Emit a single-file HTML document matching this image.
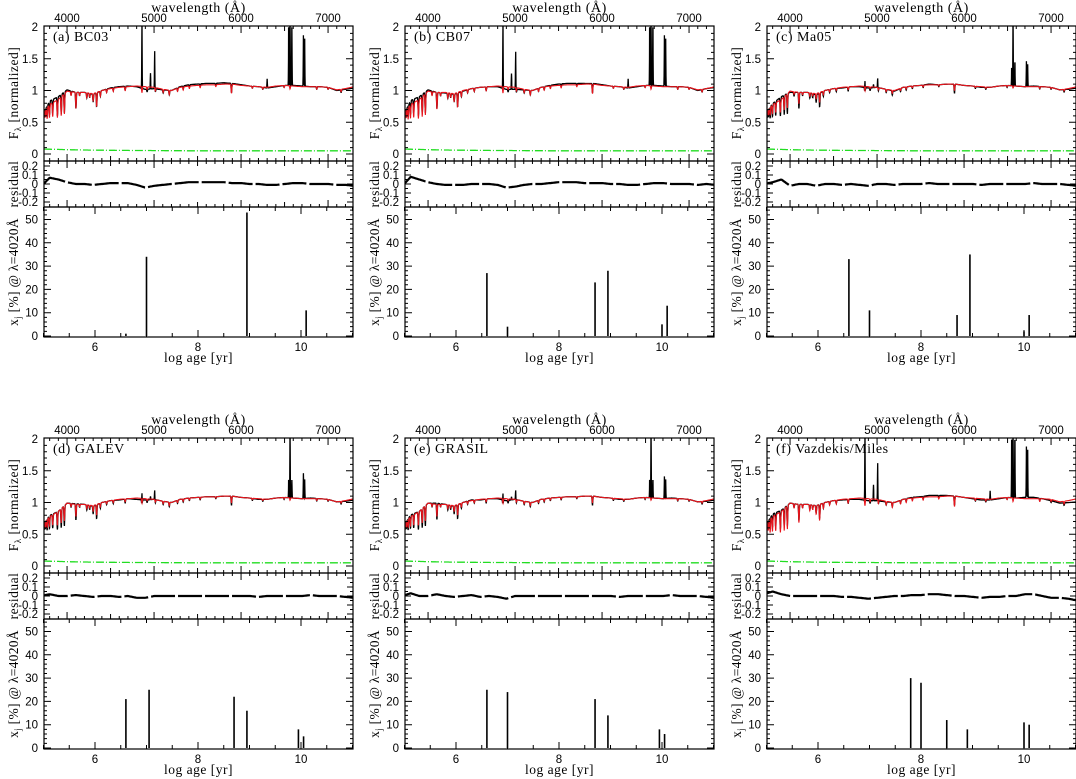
<!DOCTYPE html>
<html><head><meta charset="utf-8"><style>
html,body{margin:0;padding:0;background:#fff;}
svg{display:block;}
.s{font-family:"Liberation Serif",serif;}
.n{font-family:"Liberation Sans",sans-serif;}
</style></head><body>
<svg id="fig" width="1076" height="779" viewBox="0 0 1076 779" xmlns="http://www.w3.org/2000/svg"></svg>
<script>
// ---- data ----
const panelNames = ["(a) BC03","(b) CB07","(c) Ma05","(d) GALEV","(e) GRASIL","(f) Vazdekis/Miles"];
const contWave = [3700,3800,3900,4000,4100,4200,4300,4400,4500,4600,4700,4800,4900,5000,5100,5200,5300,5400,5500,5600,5700,5800,5900,6000,6100,6200,6300,6400,6500,6600,6700,6800,6900,7000,7100,7200,7300];
const obsCont = [0.62,0.78,0.86,0.99,0.97,0.97,0.95,1.0,1.03,1.05,1.06,1.07,1.06,1.05,1.02,1.0,1.05,1.07,1.08,1.09,1.09,1.1,1.1,1.08,1.07,1.06,1.05,1.07,1.08,1.07,1.06,1.06,1.06,1.05,1.01,1.03,1.06];
const absWave = [3750,3771,3798,3835,3889,3933,3969,4046,4102,4144,4227,4260,4300,4340,4383,4455,4531,4668,4861,4920,5015,5105,5175,5270,5335,5406,5530,5710,5890,6130,6250,6495,6563,6870,7000,7150];
const absDepth = [0.12,0.18,0.2,0.22,0.28,0.3,0.32,0.06,0.25,0.05,0.08,0.06,0.12,0.22,0.08,0.05,0.05,0.06,0.1,0.04,0.05,0.05,0.07,0.05,0.05,0.04,0.04,0.03,0.14,0.03,0.03,0.03,0.05,0.04,0.03,0.04];
const absScale = [1.0,1.05,0.7,0.75,0.75,1.15];
const emWave = [4861,4959,5007,6300,6548,6563,6584,6717,6731];
const emHeight = [
 [1.2,0.25,0.6,0.15,1.0,1.2,1.0,0.8,0.75],
 [1.2,0.25,0.6,0.15,1.0,1.2,1.0,0.8,0.75],
 [0.2,0.05,0.15,0.0,0.3,1.2,0.4,0.4,0.35],
 [0.2,0.05,0.15,0.0,0.3,1.2,0.3,0.4,0.3],
 [0.2,0.05,0.15,0.0,0.3,1.2,0.3,0.35,0.3],
 [1.2,0.25,0.6,0.15,1.0,1.2,1.0,0.8,0.75]];
const errCont = [0.08,0.075,0.072,0.068,0.065,0.063,0.061,0.06,0.058,0.057,0.056,0.055,0.055,0.054,0.053,0.052,0.052,0.051,0.05,0.05,0.05,0.05,0.05,0.05,0.05,0.05,0.05,0.05,0.05,0.05,0.05,0.05,0.05,0.05,0.05,0.05,0.05];
const resid = [
 [-0.03,0.07,0.05,0.02,0.0,0.0,-0.01,0.0,0.01,0.01,0.01,-0.01,-0.04,-0.02,-0.01,0.0,0.01,0.02,0.02,0.02,0.02,0.02,0.01,0.01,0.0,0.0,-0.01,-0.01,0.0,0.01,0.01,0.0,0.0,0.0,-0.01,-0.01,-0.02],
 [-0.03,0.08,0.05,0.02,0.0,-0.01,-0.01,-0.01,0.0,0.0,0.0,-0.01,-0.04,-0.03,-0.01,0.0,0.0,0.01,0.02,0.02,0.02,0.01,0.01,0.01,0.0,0.0,-0.01,-0.01,0.0,0.01,0.01,0.0,0.0,0.0,-0.01,0.0,-0.01],
 [0.0,0.02,0.05,-0.02,0.0,0.0,-0.02,0.0,0.0,-0.01,0.0,-0.01,-0.02,0.0,0.0,-0.01,0.0,0.0,0.0,0.01,0.0,0.0,0.0,0.0,0.0,-0.01,0.0,0.0,0.0,0.0,0.0,0.01,0.0,0.0,0.0,-0.01,-0.02],
 [0.0,0.02,0.0,0.0,0.01,0.0,-0.01,0.0,0.0,-0.01,0.0,-0.02,-0.02,0.0,0.0,0.0,0.0,0.0,0.0,0.0,0.0,0.0,0.0,0.0,0.0,-0.01,0.0,0.0,0.0,0.0,0.0,0.01,0.0,0.0,0.0,-0.01,-0.02],
 [0.0,0.03,0.0,0.0,0.02,0.0,-0.01,0.0,0.01,-0.01,0.0,-0.01,-0.03,0.0,0.0,0.0,0.0,0.0,0.0,0.0,0.0,0.0,0.0,0.0,0.0,-0.01,0.0,0.0,0.0,0.0,0.0,0.01,0.0,0.0,0.0,-0.01,-0.02],
 [0.02,0.05,0.02,0.0,0.0,0.0,0.0,0.0,0.0,-0.01,-0.01,-0.02,-0.03,-0.02,-0.01,0.0,0.0,0.01,0.01,0.02,0.02,0.01,0.0,0.0,-0.01,-0.02,-0.01,-0.01,0.0,0.0,0.02,0.02,0.0,-0.02,-0.02,-0.03,-0.05]];
const ageLog = [
 [6.6,7.0,8.95,10.1],
 [6.6,7.0,8.7,8.95,10.0,10.1],
 [6.6,7.0,8.7,8.95,10.0,10.1],
 [6.6,7.05,8.7,8.95,9.95,10.05],
 [6.6,7.0,8.7,8.95,9.95,10.05],
 [7.8,8.0,8.5,8.9,10.0,10.1]];
const agePct = [
 [1,34,53,11],
 [27,4,23,28,5,13],
 [33,11,9,35,2,9],
 [21,25,22,16,8,5],
 [25,24,21,14,8,6],
 [30,28,12,8,11,10]];
const wlTicks = [4000,5000,6000,7000];
const fluxTicks = ["0","0.5","1","1.5","2"];
const resTicks = ["-0.2","-0.1","0","0.1","0.2"];
const pctTicks = ["0","10","20","30","40","50"];
const ageTicks = ["6","8","10"];

// ---- drawing ----
const svg = document.getElementById('fig');
const NS = "http://www.w3.org/2000/svg";
function mk(tag, at, parent){const e=document.createElementNS(NS,tag);for(const k in at)e.setAttribute(k,at[k]);(parent||svg).appendChild(e);return e;}
function txt(s, at, parent){const e=mk('text',at,parent);e.textContent=s;return e;}
function interp(arr,w){let i=Math.floor((w-3700)/100);if(i<0)i=0;if(i>arr.length-2)i=arr.length-2;const t=(w-contWave[i])/100;return arr[i]*(1-t)+arr[i+1]*t;}
function modFlux(p,w){let f=interp(obsCont,w);for(let k=0;k<absWave.length;k++){const d=w-absWave[k];f-=absDepth[k]*absScale[p]*Math.exp(-d*d/(2*16));}return f;}
function obsFlux(p,w){let f=interp(obsCont,w);for(let k=0;k<absWave.length;k++){const d=w-absWave[k];f-=absDepth[k]*Math.exp(-d*d/(2*16));}
 f=f*(1+interp(resid[p],w));
 for(let k=0;k<emWave.length;k++){const d=w-emWave[k];f+=emHeight[p][k]*Math.exp(-d*d/(2*5));}return f;}

for(let p=0;p<6;p++){
 const dx=[0,361,723][p%3], dy=p<3?0:412;
 const L=44+dx,R=353+dx,T=26+dy,B1=161+dy,B2=207+dy,B3=337+dy;
 const g=mk('g',{},svg);
 
 
 const X=w=>L+(w-3735)*0.087;
 const Yf=f=>154+dy-f*63.5;
 const Yr=r=>184+dy-r*90;
 const Xa=a=>43.5+dx+(a-5)*51.5;
 const Ya=v=>336+dy-v*2.33;
 const clipId='c'+p;
 const cp=mk('clipPath',{id:clipId},g);mk('rect',{x:L,y:T,width:R-L,height:B1-T},cp);
 const cr=mk('clipPath',{id:'r'+p},g);mk('rect',{x:L,y:B1,width:R-L,height:B2-B1},cr);
 let po='',pm='',pe='',pr='';
 for(let w=3735;w<=7290;w+=2){po+=X(w).toFixed(1)+','+Yf(obsFlux(p,w)).toFixed(1)+' ';pm+=X(w).toFixed(1)+','+Yf(modFlux(p,w)).toFixed(1)+' ';}
 for(let w=3735;w<=7290;w+=10){pe+=X(w).toFixed(1)+','+Yf(interp(errCont,w)).toFixed(1)+' ';pr+=X(w).toFixed(1)+','+Yr(interp(resid[p],w)).toFixed(1)+' ';}
 const eo=mk('polyline',{points:po,fill:'none',stroke:'#000','stroke-width':1.3,'clip-path':'url(#'+clipId+')'},g);
 
 
 const em=mk('polyline',{points:pm,fill:'none',stroke:'#e8141c','stroke-width':1.1,'clip-path':'url(#'+clipId+')'},g);
 
 
 const ee=mk('polyline',{points:pe,fill:'none',stroke:'#22dd22','stroke-width':1.3,'stroke-dasharray':'8 2 1 2'},g);
 
 
 const er=mk('polyline',{points:pr,fill:'none',stroke:'#000','stroke-width':2.2,'stroke-dasharray':'24 3','clip-path':'url(#r'+p+')'},g);
 
 
 for(let k=0;k<ageLog[p].length;k++){
  const b=mk('line',{x1:Xa(ageLog[p][k]),x2:Xa(ageLog[p][k]),y1:Ya(0),y2:Ya(agePct[p][k]),stroke:'#000','stroke-width':1.6},g);
  
  
 }
 for(const [a,b] of [[T,B1],[B1,B2],[B2,B3]]) mk('rect',{x:L,y:a,width:R-L,height:b-a,fill:'none',stroke:'#000','stroke-width':1.2},g);
 let tk='';
 for(let w=3800;w<=7200;w+=100){const x=X(w),len=(w%1000==0)?7:(w%500==0?5:3);
  tk+=`M${x},${T}v${len}M${x},${B1}v${-len}M${x},${B1}v${len}M${x},${B2}v${-len}`;}
 for(let f=0;f<=2;f+=0.1){const y=Yf(f),len=(Math.abs(f*2-Math.round(f*2))<1e-6)?7:3;tk+=`M${L},${y}h${len}M${R},${y}h${-len}`;}
 for(let r=-0.2;r<=0.201;r+=0.05){const y=Yr(r),len=(Math.abs(r*10-Math.round(r*10))<1e-6)?6:3;tk+=`M${L},${y}h${len}M${R},${y}h${-len}`;}
 for(let v=0;v<=55;v+=2){const y=Ya(v),len=v%10==0?7:3;tk+=`M${L},${y}h${len}M${R},${y}h${-len}`;}
 for(let a=5;a<=11;a+=0.5){const x=Xa(a),len=(a%2==0)?7:4;tk+=`M${x},${B3}v${-len}M${x},${B2}v${len}`;}
 mk('path',{d:tk,stroke:'#000','stroke-width':1,fill:'none'},g);
 for(const w of wlTicks) txt(String(w),{x:X(w),y:22+dy,'text-anchor':'middle','font-size':11.5,class:'n'},g);
 txt('wavelength (Å)',{x:(L+R)/2,y:12+dy,'text-anchor':'middle','font-size':14,'letter-spacing':'0.5',class:'s'},g);
 fluxTicks.forEach(s=>txt(s,{x:L-6,y:Yf(parseFloat(s))+4,'text-anchor':'end','font-size':11.5,class:'n'},g));
 resTicks.forEach(s=>txt(s,{x:L-6,y:Yr(parseFloat(s))+4,'text-anchor':'end','font-size':11.5,class:'n'},g));
 pctTicks.forEach(s=>txt(s,{x:L-6,y:Ya(parseFloat(s))+4,'text-anchor':'end','font-size':11.5,class:'n'},g));
 ageTicks.forEach(s=>txt(s,{x:Xa(parseFloat(s)),y:351+dy,'text-anchor':'middle','font-size':11.5,class:'n'},g));
 txt('log age [yr]',{x:(L+R)/2,y:362+dy,'text-anchor':'middle','font-size':13.5,'letter-spacing':'0.5',class:'s'},g);
 const t1=txt('',{transform:`translate(${dx+18},${93+dy}) rotate(-90)`,'text-anchor':'middle','font-size':13.5,'letter-spacing':'0.5',class:'s'},g);
 t1.innerHTML='F<tspan font-size="9" dy="3">λ</tspan><tspan dy="-3"> [normalized]</tspan>';
 txt('residual',{transform:`translate(${dx+18},${184+dy}) rotate(-90)`,'text-anchor':'middle','font-size':13.5,'letter-spacing':'0.5',class:'s'},g);
 const t3=txt('',{transform:`translate(${dx+18},${272+dy}) rotate(-90)`,'text-anchor':'middle','font-size':13.5,'letter-spacing':'0.3',class:'s'},g);
 t3.innerHTML='x<tspan font-size="9" dy="3">j</tspan><tspan dy="-3"> [%] @ λ=4020Å</tspan>';
 const nm=txt(panelNames[p],{x:L+9,y:T+15,'font-size':14,'letter-spacing':'0.5',class:'s'},g);
 
 
}
</script>
</body></html>
